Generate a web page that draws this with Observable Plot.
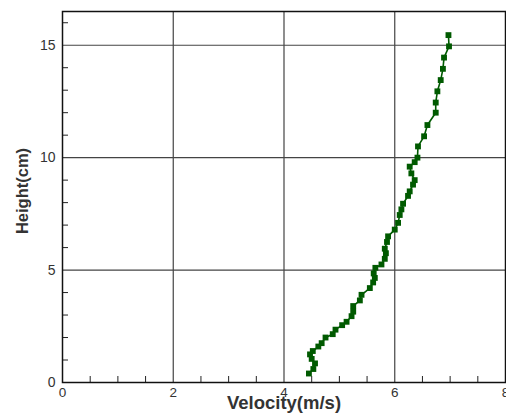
<!DOCTYPE html>
<html>
<head>
<meta charset="utf-8">
<script src="https://cdn.jsdelivr.net/npm/d3@7"></script>
<script src="https://cdn.jsdelivr.net/npm/@observablehq/plot@0.6"></script>
<style>
  html, body { margin: 0; padding: 0; background: #fff; }
  svg { display: block; font-family: "Liberation Sans", Arial, sans-serif; }
</style>
</head>
<body>
<div id="chart"></div>
<script>
// Velocity profile: height above the bed (cm) against velocity (m/s)
const heightCm = [
  0.4, 0.6, 0.85, 1.05, 1.25, 1.4, 1.6, 1.75, 2.0, 2.15, 2.35, 2.55, 2.7, 2.95,
  3.15, 3.4, 3.65, 3.9, 4.2, 4.45, 4.65, 4.85, 5.1, 5.25, 5.5, 5.75, 5.95, 6.25,
  6.5, 6.8, 7.1, 7.45, 7.7, 7.95, 8.3, 8.5, 8.8, 9.0, 9.3, 9.6, 9.8, 10.0, 10.5,
  10.95, 11.45, 12.0, 12.45, 12.95, 13.45, 13.95, 14.45, 14.95, 15.45
];
const velocity = [
  4.45, 4.53, 4.56, 4.50, 4.47, 4.52, 4.62, 4.68, 4.75, 4.88, 4.93, 5.05, 5.13, 5.22,
  5.25, 5.25, 5.37, 5.40, 5.55, 5.61, 5.64, 5.62, 5.65, 5.76, 5.82, 5.84, 5.82, 5.86,
  5.88, 6.00, 6.06, 6.09, 6.12, 6.15, 6.24, 6.27, 6.33, 6.36, 6.30, 6.27, 6.36, 6.41, 6.42,
  6.53, 6.59, 6.74, 6.74, 6.77, 6.83, 6.87, 6.89, 6.98, 6.97
];

const xMajor = [0, 2, 4, 6, 8];
const xMinor = [0.5, 1, 1.5, 2.5, 3, 3.5, 4.5, 5, 5.5, 6.5, 7, 7.5];
const yMajor = [0, 5, 10, 15];
const yMinor = [1, 2, 3, 4, 6, 7, 8, 9, 11, 12, 13, 14, 16];
const xTitle = "Velocity(m/s)";
const yTitle = "Height(cm)";

const profile = heightCm.map((h, i) => ({h, v: velocity[i]}));
const green = "#005a00";

const chart = Plot.plot({
  width: 506,
  height: 416,
  marginLeft: 62,
  marginRight: 1,
  marginTop: 11,
  marginBottom: 34,
  style: {fontFamily: "Liberation Sans, Arial, sans-serif", background: "#fff"},
  x: {domain: [0, 8], ticks: xMajor},
  y: {domain: [0, 16.5], ticks: yMajor},
  marks: [
    // grid at the major ticks
    Plot.ruleX([2, 4, 6], {x: d => d, stroke: "#444", strokeWidth: 1.2}),
    Plot.ruleY([5, 10, 15], {y: d => d, stroke: "#444", strokeWidth: 1.2}),
    // inward minor ticks
    Plot.ruleX(xMinor, {x: d => d, y1: 0, y2: 0, insetTop: -6, stroke: "#222", strokeWidth: 1}),
    Plot.ruleY(yMinor, {y: d => d, x1: 0, x2: 0, insetRight: -6, stroke: "#222", strokeWidth: 1}),
    // tick labels
    Plot.axisX({ticks: xMajor, tickSize: 0, tickPadding: 5, fontSize: 13.5, fill: "#333", label: null}),
    Plot.axisY({ticks: yMajor, tickSize: 0, tickPadding: 7, fontSize: 14, fill: "#333", label: null}),
    // axis titles
    Plot.text([xTitle], {frameAnchor: "bottom", dy: 26, text: d => d, fontSize: 18.5, fontWeight: "bold", fill: "#333"}),
    Plot.text([yTitle], {frameAnchor: "left", dx: -40, dy: -6, rotate: -90, textAnchor: "middle", text: d => d, fontSize: 16.5, fontWeight: "bold", fill: "#333"}),
    // profile
    Plot.line(profile, {x: "v", y: "h", stroke: green, strokeWidth: 1.6}),
    Plot.dot(profile, {x: "v", y: "h", symbol: "square", r: 3.3, fill: green, stroke: "none"}),
    Plot.frame({stroke: "#111", strokeWidth: 1.5})
  ]
});
document.getElementById("chart").appendChild(chart);
</script>
</body>
</html>
